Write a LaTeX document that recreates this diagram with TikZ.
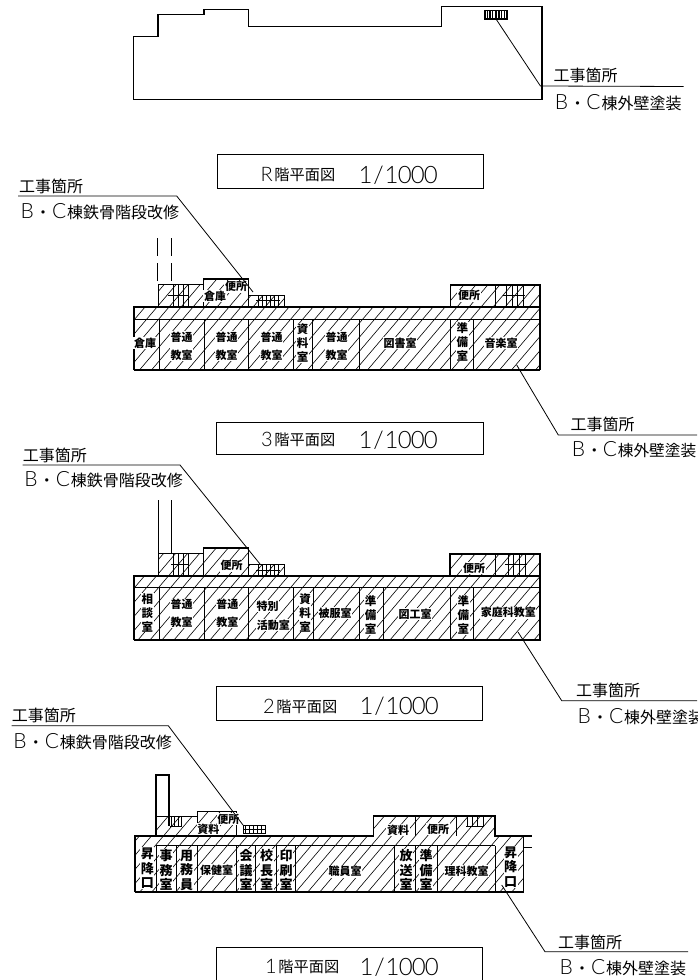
\documentclass[tikz,border=0pt]{standalone}
\usepackage{fontspec}
\setmainfont{Noto Sans CJK JP}
\newfontfamily\latf{Lato Light}
\newcommand\BCtxt{\makebox[16pt]{\fontsize{21}{21}\latf B}\makebox[16pt]{・}\makebox[16pt]{\fontsize{21}{21}\latf C}}
\newcommand\dg[1]{\makebox[13pt]{\fontsize{24}{24}\latf #1}}
\newcommand\scaletxt{\raisebox{-2.5pt}{\dg{1}\dg{/}\dg{1}\dg{0}\dg{0}\dg{0}}}
\newcommand\bigch[1]{\makebox[15.2pt]{\raisebox{-1pt}{\fontsize{20}{20}\latf #1}}}
\newcommand\stairset[6]{\foreach \sx in {#1}{\draw[stairline](\sx,#2)--(\sx,#3);}\draw[stairline](#4,#6)--(#5,#6);}
\newcommand\hatchlines{\foreach \k in {130,142,...,1380}{\draw[hatchline](\k,0)--(\k-833,980);}}
\tikzset{
 x=1pt,y=-1pt,
 wall/.style={line width=1.3pt,line join=miter},
 inner/.style={line width=0.9pt},
 thinw/.style={line width=0.7pt},
 hatchline/.style={line width=0.6pt},
 stairline/.style={line width=0.9pt},
 leader/.style={line width=0.8pt},
 titlebox/.style={line width=0.9pt},
 note/.style={anchor=base west,inner sep=0pt,font=\fontsize{16}{16}\selectfont},
 titletxt/.style={anchor=base west,inner sep=0pt,font=\fontsize{15.2}{15.2}\selectfont},
 room/.style={fill=white,inner sep=0.6pt,align=center,font=\bfseries\fontsize{11}{18}\selectfont},
 roomv/.style={fill=white,inner sep=0.6pt,align=center,font=\bfseries\fontsize{11.5}{14}\selectfont},
 roomb/.style={fill=white,inner sep=0.6pt,align=center,font=\bfseries\fontsize{13}{14.5}\selectfont},
}
\begin{document}
\begin{tikzpicture}
\useasboundingbox[fill=white] (0,0) rectangle (697,980);

% ---------- roof
\draw[wall,line width=1.1pt] (133.3,99.3)--(133.3,36.7)--(158,36.7)--(158,14.3)--(204,14.3)--(204,9.5)--(248.5,9.5)--(248.5,26.7)--(441.5,26.7)--(441.5,6.7)--(542,6.7)--(542,99.3)--cycle;
\draw[line width=1.4pt] (485,10.5) rectangle (507,19);
\foreach \x in {487.5,490,492.5,496,499,501.5,504.5}{\draw[line width=1.3pt](\x,10.5)--(\x,19);}
\coordinate (rA) at (496,19);
\coordinate (rB) at (540.4,86);
\coordinate (rC) at (683.7,86.5);
\draw[leader] (rA)--(rB)--(rC);
\node[note] (rN1) at (553.3,81.6) {工事箇所};
\node[note] (rN2) at (553.3,109.6) {\BCtxt 棟外壁塗装};
\draw[titlebox] (217,154) rectangle (483,188);
\node[titletxt] (rT) at (259,180.5) {\bigch{R}階平面図\hspace{24pt}\scaletxt};

% ---------- 3F
\begin{scope}
\clip (134,370)--(134,307)--(158.3,307)--(158.3,284.3)--(203.3,284.3)--(203.3,279)--(248.3,279)--(248.3,295)--(284,295)--(284,307)--(450,307)--(450,285)--(540,285)--(540,370)--cycle;
\hatchlines
\end{scope}
\draw[wall] (134,370)--(134,307)--(158.3,307);
\draw[thinw] (158.3,307)--(158.3,284.3)--(203.3,284.3);
\draw[wall] (203.3,307)--(203.3,279)--(248.3,279)--(248.3,307);
\draw[thinw] (248.3,295)--(284,295)--(284,307);
\draw[wall] (134,307)--(450,307);
\draw[thinw] (450,307)--(450,285);
\draw[wall] (450,285)--(540,285)--(540,370);
\draw[wall] (540,307)--(450,307);
\draw[wall] (134,370)--(540,370);
\draw[inner] (134,319.3)--(540,319.3);
\foreach \x in {159,204,248.3,293.3,312.7,359,450.7,473.3}{\draw[inner](\x,319.3)--(\x,370);}
\draw[thinw] (495,285)--(495,307);
\stairset{173,178,183,188}{284.3}{307}{168}{188}{295}
\stairset{506.7,512,517.5,523}{285}{307}{503}{525}{295}
\stairset{258,262,266,270,274,278}{295}{307}{256}{280}{300}
\draw[inner,dashed,dash pattern=on 18pt off 7pt] (157.8,238)--(157.8,284.3);
\draw[inner,dashed,dash pattern=on 18pt off 7pt] (171.7,238)--(171.7,284.3);
\node[room] (c3a) at (145,343) {倉庫};
\node[room] (c3b) at (181.7,346) {普通\\教室};
\node[room] (c3c) at (226.7,346) {普通\\教室};
\node[room] (c3d) at (271.7,346) {普通\\教室};
\node[roomv] (c3e) at (302.7,343) {資\\料\\室};
\node[room] (c3f) at (336.7,346) {普通\\教室};
\node[room] (c3g) at (400,343) {図書室};
\node[roomv] (c3h) at (462.3,341.5) {準\\備\\室};
\node[room] (c3i) at (501,343) {音楽室};
\node[room] (c3j) at (215,296) {倉庫};
\node[room] (c3k) at (236,286.7) {便所};
\node[room] (c3l) at (469,295.7) {便所};
\coordinate (lA3) at (18,196);
\coordinate (lB3) at (176.7,196);
\coordinate (lC3) at (253,292);
\draw[leader] (lA3)--(lB3)--(lC3);
\node[note] (n3a) at (19,192) {工事箇所};
\node[note] (n3b) at (19,218) {\BCtxt 棟鉄骨階段改修};
\coordinate (rA3) at (516.7,365);
\coordinate (rB3) at (558.3,435);
\coordinate (rC3) at (697,435);
\draw[leader] (rA3)--(rB3)--(rC3);
\node[note] (n3c) at (570.5,430.6) {工事箇所};
\node[note] (n3d) at (570.5,456.6) {\makebox[15.7pt]{\fontsize{21}{21}\latf B}\makebox[15.7pt]{・}\makebox[15.7pt]{\fontsize{21}{21}\latf C}\fontsize{15.7}{16}\selectfont 棟外壁塗装};
\draw[titlebox] (216.7,422) rectangle (483,454.5);
\node[titletxt] (t3) at (259,445.5) {\bigch{3}階平面図\hspace{24pt}\scaletxt};

% ---------- 2F
\begin{scope}
\clip (134,640)--(134,576)--(159,576)--(159,553.3)--(203.3,553.3)--(203.3,548)--(248.3,548)--(248.3,564)--(284,564)--(284,576)--(450,576)--(450,554)--(540,554)--(540,640)--cycle;
\hatchlines
\end{scope}
\draw[wall] (134,640)--(134,576)--(158.3,576);
\draw[wall] (158.3,576)--(158.3,500);
\draw[inner] (171.7,500)--(171.7,553.3);
\draw[thinw] (158.3,553.3)--(203.3,553.3);
\draw[wall] (203.3,576)--(203.3,548)--(248.3,548)--(248.3,576);
\draw[thinw] (248.3,564)--(284,564)--(284,576);
\draw[wall] (134,576)--(450,576);
\draw[wall] (450,576)--(450,554)--(540,554)--(540,640)--(134,640);
\draw[wall] (540,576)--(450,576);
\draw[inner] (134,587.3)--(540,587.3);
\foreach \x in {159,204,248.3,293.3,313.3,359,383.3,450.7,473.3}{\draw[inner](\x,587.3)--(\x,640);}
\draw[thinw] (495,554)--(495,576);
\stairset{173,178,183,188}{553.3}{576}{171}{188}{564}
\stairset{508,513,519,525}{554}{576}{505}{527}{564}
\stairset{258,262,266,270,274,278}{564}{576}{256}{280}{570}
\node[roomv] (c2a) at (147.3,612.5) {相\\談\\室};
\node[room] (c2b) at (181.7,613.5) {普通\\教室};
\node[room] (c2c) at (227.3,613.5) {普通\\教室};
\node[room,anchor=base] (c2d1) at (267.7,610) {特別};
\node[room,anchor=base] (c2d2) at (273.3,629) {活動室};
\node[roomv] (c2e) at (305,612.5) {資\\料\\室};
\node[room] (c2f) at (335,613.3) {被服室};
\node[roomv] (c2g) at (370.7,615) {準\\備\\室};
\node[room] (c2h) at (415,614) {図工室};
\node[roomv] (c2i) at (463.3,615) {準\\備\\室};
\node[room] (c2j) at (508.3,612.7) {家庭科教室};
\node[room] (c2k) at (231.7,565.7) {便所};
\node[room] (c2l) at (474,568) {便所};
\coordinate (lA2) at (22.7,465);
\coordinate (lB2) at (180,465);
\coordinate (lC2) at (260,564);
\draw[leader] (lA2)--(lB2)--(lC2);
\node[note] (n2a) at (22.7,461) {工事箇所};
\node[note] (n2b) at (22.7,486.6) {\BCtxt 棟鉄骨階段改修};
\coordinate (rA2) at (518,632);
\coordinate (rB2) at (561.7,700.7);
\coordinate (rC2) at (697,700.7);
\draw[leader] (rA2)--(rB2)--(rC2);
\node[note] (n2c) at (576,696.6) {工事箇所};
\node[note] (n2d) at (576,723) {\BCtxt 棟外壁塗装};
\draw[titlebox] (216.7,686) rectangle (482,720.7);
\node[titletxt] (t2) at (261,712) {\bigch{2}階平面図\hspace{23pt}\scaletxt};

% ---------- 1F
\begin{scope}
\clip (135,892)--(135,836)--(156,836)--(156,816)--(197.3,816)--(197.3,811.7)--(236.7,811.7)--(236.7,836)--(373.3,836)--(373.3,816)--(495,816)--(495,836)--(523.3,836)--(523.3,892)--cycle;
\hatchlines
\end{scope}
\draw[wall] (135,892)--(135,836)--(156,836)--(156,775)--(169,775)--(169,826);
\draw[thinw] (156,816)--(197.3,816);
\draw[wall] (197.3,836)--(197.3,811.7)--(236.7,811.7)--(236.7,836);
\draw[thinw] (243,825)--(265,825)--(265,833)--(243,833)--cycle;
\draw[wall] (135,836)--(373.3,836)--(373.3,816)--(495,816)--(495,836)--(531.7,836);
\draw[wall] (523.3,836)--(523.3,892)--(135,892);
\draw[inner] (523.3,847)--(531.7,847);
\draw[inner] (156,845.5)--(495,845.5);
\foreach \x in {156,176,197.3,236.7,255.5,276.7,295,394,415.3,437,495}{\draw[inner](\x,845.5)--(\x,892);}
\draw[thinw] (415,816)--(415,836);
\draw[thinw] (456.7,816)--(456.7,836);
\stairset{171,174.5,178,181.5}{816}{826}{170}{182}{826}
\stairset{245,249,253,257,261}{825}{833}{243}{265}{829}
\stairset{467,472,477.5,483}{816}{826}{466}{484}{826}
\node[roomb] (c1a) at (147.3,868.3) {昇\\降\\口};
\node[roomb] (c1b) at (166,870) {事\\務\\室};
\node[roomb] (c1c) at (186.7,870) {用\\務\\員};
\node[room] (c1d) at (216.7,870) {保健室};
\node[roomb] (c1e) at (246,870) {会\\議\\室};
\node[roomb] (c1f) at (266.7,870) {校\\長\\室};
\node[roomb] (c1g) at (286,870) {印\\刷\\室};
\node[room] (c1h) at (345,871.7) {職員室};
\node[roomb] (c1i) at (406,870) {放\\送\\室};
\node[roomb] (c1j) at (426,870) {準\\備\\室};
\node[room] (c1k) at (466.7,871) {理科教室};
\node[roomb] (c1l) at (510.7,867) {昇\\降\\口};
\node[room] (c1m) at (208.3,829) {資料};
\node[room] (c1n) at (228.3,819.3) {便所};
\node[room] (c1o) at (398,830) {資料};
\node[room] (c1p) at (438,829) {便所};
\coordinate (lA1) at (11.7,725.7);
\coordinate (lB1) at (168.3,725.7);
\coordinate (lC1) at (243,825);
\draw[leader] (lA1)--(lB1)--(lC1);
\node[note] (n1a) at (11.7,721.6) {工事箇所};
\node[note] (n1b) at (11.7,748) {\BCtxt 棟鉄骨階段改修};
\coordinate (rA1) at (501.7,885);
\coordinate (rB1) at (545,951.7);
\coordinate (rC1) at (688,951.7);
\draw[leader] (rA1)--(rB1)--(rC1);
\node[note] (n1c) at (558,948) {工事箇所};
\node[note] (n1d) at (558,974.6) {\BCtxt 棟外壁塗装};
\draw[titlebox] (216.7,980)--(216.7,947)--(482.7,947)--(482.7,980);
\node[titletxt] (t1) at (263,972.5) {\bigch{1}階平面図\hspace{21pt}\scaletxt};
\end{tikzpicture}
\end{document}
